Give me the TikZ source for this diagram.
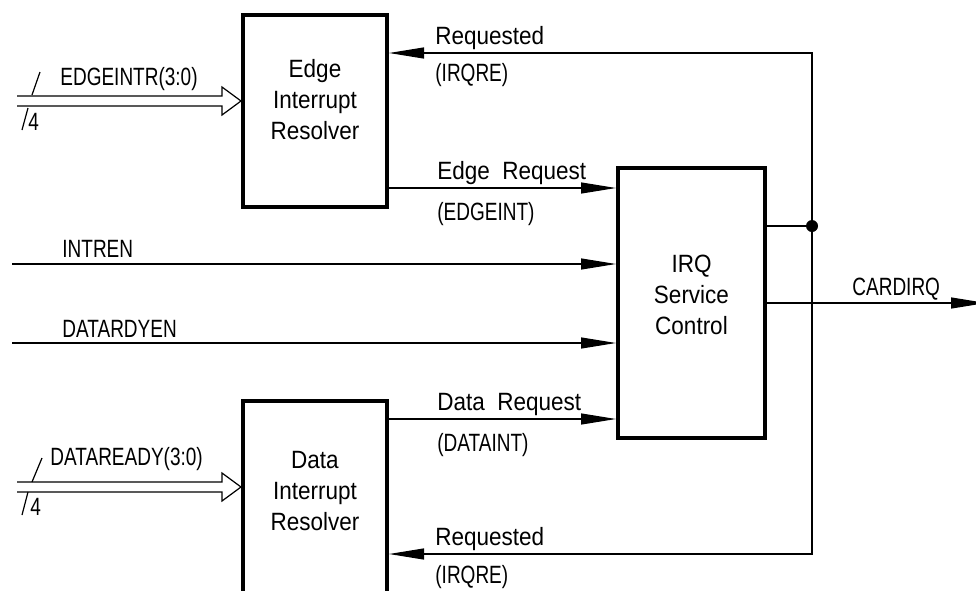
\documentclass[tikz,border=0pt]{standalone}
\usepackage{fontspec}
\setmainfont{Liberation Sans}[FakeStretch=0.9]
\newfontfamily\capsfont{Liberation Sans}[FakeStretch=0.76]
\usetikzlibrary{arrows.meta, positioning, calc}

\tikzset{
  blockbox/.style={draw, line width=2pt, minimum width=72pt, minimum height=96pt, inner sep=0pt},
  blocktext/.style={align=center, inner sep=0pt, font=\fontsize{12.5}{15.5}\selectfont},
  sig/.style={line width=0.6pt},
  sigarrow/.style={sig, -{Triangle[length=17.5pt,width=5.5pt]}},
  lbl/.style={anchor=base west, inner sep=0pt, font=\fontsize{12.5}{15}\selectfont},
  capslbl/.style={lbl, font=\fontsize{12.5}{15}\capsfont},
}

\begin{document}
\begin{tikzpicture}[x=0.5pt, y=-0.5pt]
\useasboundingbox (0,0) rectangle (976,590);

% Blocks
\node[blockbox] (eir) at (315,111) {};
\node[blockbox] (dir) at (315,497) {};
\node[blockbox, minimum width=73.5pt, minimum height=135pt] (irq) at (691.5,303) {};
\node[blocktext] (eirtxt) at ($(eir.center)+(0,-11)$) {Edge\\Interrupt\\Resolver};
\node[blocktext] (dirtxt) at ($(dir.center)+(0,-6)$) {Data\\Interrupt\\Resolver};
\node[blocktext] (irqtxt) at ($(irq.center)+(0,-8)$) {IRQ\\Service\\Control};

% Free ends and junction
\coordinate (edgein) at (17,101);
\coordinate (datain) at (17,487);
\coordinate (intrenin) at (12,264);
\coordinate (dardyin) at (12,343);
\coordinate (junct) at (812,226);
\coordinate (reqtop) at (812,53);
\coordinate (reqbot) at (812,554);
\coordinate (cardout) at (986,303);

% Bus inputs (4 bits)
\draw[sig] ($(edgein)+(0,-5)$) -- ($(eir.west|-edgein)+(-19,-5)$) -- ++(0,-9)
  -- (eir.west|-edgein) -- ++(-19,14) -- ++(0,-9) -- ($(edgein)+(0,5)$);
\draw[sig] (40,72) -- (32,95) (28,108) -- (22,130);
\node[capslbl] (edgebus) at (60,85) {EDGEINTR(3:0)};
\node[capslbl] (edgew) at (28,130) {4};

\draw[sig] ($(datain)+(0,-5)$) -- ($(dir.west|-datain)+(-19,-5)$) -- ++(0,-9)
  -- (dir.west|-datain) -- ++(-19,14) -- ++(0,-9) -- ($(datain)+(0,5)$);
\draw[sig] (42,458) -- (32,482) (28,492) -- (22,515);
\node[capslbl] (databus) at (50,465) {DATAREADY(3:0)};
\node[capslbl] (dataw) at (30,515) {4};

% Enables
\draw[sigarrow] (intrenin) -- (irq.west|-intrenin);
\node[capslbl] (intren) at (62,257) {INTREN};
\draw[sigarrow] (dardyin) -- (irq.west|-dardyin);
\node[capslbl] (dardy) at (62,337) {DATARDYEN};

% Requests into IRQ block
\draw[sigarrow] (eir.east|-0,188) -- (irq.west|-0,188);
\node[lbl] (edgereq) at (437,179) {Edge\ \ Request};
\node[capslbl] (edgeint) at (437,220) {(EDGEINT)};
\draw[sigarrow] (dir.east|-0,419) -- (irq.west|-0,419);
\node[lbl] (datareq) at (437,410) {Data\ \ Request};
\node[capslbl] (dataint) at (437,451) {(DATAINT)};

% Feedback to resolvers
\draw[sig] (irq.east|-junct) -- (junct);
\fill (junct) circle (6);
\draw[sigarrow] (junct) -- (reqtop) -- (eir.east|-reqtop);
\draw[sigarrow] (junct) -- (reqbot) -- (dir.east|-reqbot);
\node[lbl] (reqa) at (435,44) {Requested};
\node[capslbl] (irqrea) at (435,81) {(IRQRE)};
\node[lbl] (reqb) at (435,545) {Requested};
\node[capslbl] (irqreb) at (435,583) {(IRQRE)};

% Output
\draw[sigarrow] (irq.east|-cardout) -- (cardout);
\node[capslbl] (cardirq) at (852,295) {CARDIRQ};
\end{tikzpicture}
\end{document}
